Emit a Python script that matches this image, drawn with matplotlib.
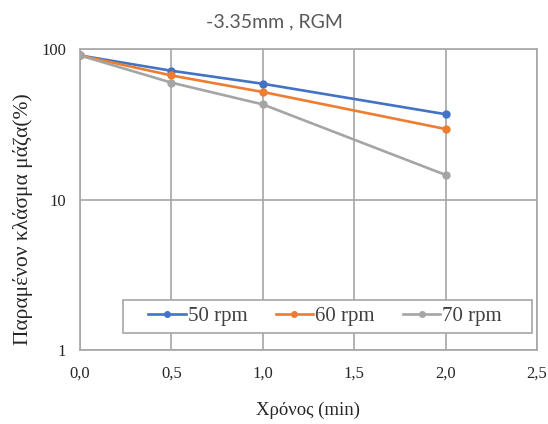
import matplotlib
matplotlib.use("Agg")
import matplotlib.pyplot as plt
from matplotlib.patches import Rectangle
from matplotlib.ticker import FixedLocator, FuncFormatter, NullLocator

time_min = [0.0, 0.5, 1.0, 2.0]
rpm50 = [91, 72, 59, 37]
rpm60 = [91, 67, 52, 29.5]
rpm70 = [91, 60, 43, 14.6]
series_labels = ["50 rpm", "60 rpm", "70 rpm"]
colors = ["#4472C4", "#ED7D31", "#A5A5A5"]
x_ticks = [0.0, 0.5, 1.0, 1.5, 2.0, 2.5]
y_ticks = [1, 10, 100]

fig = plt.figure(figsize=(5.48, 4.24), dpi=100)
ax = fig.add_axes([80/548, 1-350/424, 457/548, 300.7/424])

for vals, lab, c in zip([rpm50, rpm60, rpm70], series_labels, colors):
    ax.plot(time_min, vals, color=c, lw=1.9, marker="o", ms=5, label=lab, zorder=3)

ax.set_yscale("log")
ax.set_ylim(1, 100)
ax.set_xlim(0, 2.5)
ax.yaxis.set_major_locator(FixedLocator(y_ticks))
ax.yaxis.set_minor_locator(NullLocator())
ax.yaxis.set_major_formatter(FuncFormatter(lambda v, p: f"{v:g}"))
ax.xaxis.set_major_locator(FixedLocator(x_ticks))
ax.xaxis.set_major_formatter(FuncFormatter(lambda v, p: f"{v:.1f}".replace(".", ",")))

grid_c = "#A6A6A6"
ax.grid(True, which="major", color=grid_c, lw=1.2, zorder=0)
for s in ax.spines.values():
    s.set_color(grid_c)
    s.set_linewidth(1.2)
ax.tick_params(axis="x", length=0, pad=11, labelsize=12, labelcolor="#262626")
ax.tick_params(axis="y", length=0, pad=10, labelsize=12, labelcolor="#262626")
for t in ax.get_xticklabels() + ax.get_yticklabels():
    t.set_fontfamily("Liberation Serif")

fig.text(0.5, 1-22/424, "-3.35mm , RGM", ha="center", va="center",
         fontsize=14, color="#595959", family="Lato")
fig.text(308/548, 1-410/424, "Χρόνος (min)", ha="center", va="center",
         fontsize=13.5, family="Liberation Serif", color="#262626")
fig.text(23/548, 1-219/424, "Παραμένον κλάσμα μάζα(%)", ha="center", va="center",
         rotation=90, fontsize=15.5, family="Liberation Serif", color="#262626")

# legend frame (drawn separately) and centered entries
x0, y0, w, h = 0.094, 0.0565, 0.895, 0.11
ax.add_patch(Rectangle((x0, y0), w, h, transform=ax.transAxes, facecolor="white",
                       edgecolor=grid_c, lw=1.2, zorder=4))
leg = ax.legend(loc="center", bbox_to_anchor=(x0 + w/2 - 0.005, y0 + h/2),
                ncol=3, frameon=False, handlelength=1.8,
                handletextpad=0.1, columnspacing=1.35, markerscale=0.8,
                prop={"family": "Liberation Serif", "size": 15})
leg.set_zorder(5)
for t in leg.get_texts():
    t.set_color("#404040")

fig.savefig("out.png", dpi=100)
